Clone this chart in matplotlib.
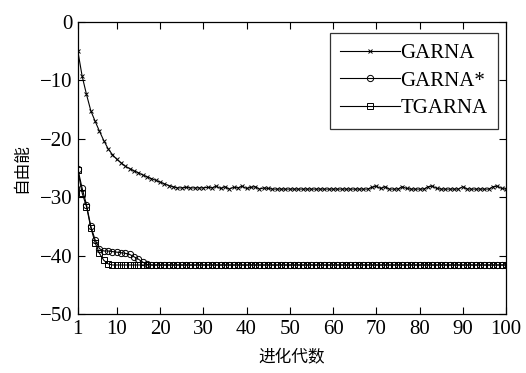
#!/usr/bin/env python3

import numpy as np
import matplotlib
matplotlib.use("Agg")
import matplotlib.pyplot as plt

# generations 1..100
gens = np.arange(1, 101)

# GARNA (x markers) - slow decay, settles around -28.5
garna = [-5.0, -9.3, -12.4, -15.2, -17.0, -18.7, -20.3, -21.7, -22.7, -23.5,
         -24.1, -24.7, -25.1, -25.5, -25.8, -26.2, -26.5, -26.8, -27.1, -27.4,
         -27.7, -28.0, -28.2, -28.4, -28.4, -28.3, -28.4, -28.4, -28.4, -28.4,
         -28.3, -28.4, -28.1, -28.5, -28.2, -28.6, -28.3, -28.4, -28.1, -28.5,
         -28.3, -28.2, -28.6, -28.4, -28.5, -28.6, -28.6, -28.6, -28.6, -28.6,
         -28.6, -28.6, -28.6, -28.6, -28.6, -28.6, -28.6, -28.6, -28.6, -28.6,
         -28.6, -28.6, -28.6, -28.6, -28.6, -28.6, -28.6, -28.6, -28.3, -28.1,
         -28.5, -28.2, -28.6, -28.6, -28.6, -28.2, -28.5, -28.6, -28.6, -28.6,
         -28.6, -28.2, -28.1, -28.5, -28.6, -28.6, -28.6, -28.6, -28.6, -28.2,
         -28.6, -28.6, -28.6, -28.6, -28.6, -28.6, -28.2, -28.1, -28.5, -28.6]

# GARNA* (circles) - fast drop, plateau near -39.5, then converges
garna_star = [-25.2, -28.5, -31.3, -35.0, -37.3, -38.8, -39.2, -39.2, -39.3, -39.4,
              -39.5, -39.6, -39.8, -40.2, -40.6, -41.1, -41.5] + [-41.6] * 83

# TGARNA (squares) - converges fastest
tgarna = [-25.4, -29.3, -31.6, -35.2, -37.8, -39.6, -40.8, -41.4, -41.6] + [-41.6] * 91

xticks = [1, 10, 20, 30, 40, 50, 60, 70, 80, 90, 100]
yticks = [0, -10, -20, -30, -40, -50]

serif = ['Liberation Serif', 'DejaVu Serif']
cjk = ['Noto Sans CJK SC', 'DejaVu Sans']

fig = plt.figure(figsize=(5.26, 3.73), dpi=100)
ax = fig.add_axes([0.148, 0.158, 0.814, 0.783])

ax.plot(gens, garna, '-x', color='black', lw=0.8, ms=3.0, mew=0.7, label='GARNA')
ax.plot(gens, garna_star, '-o', color='black', lw=0.8, ms=4.5, mew=0.7,
        mfc='none', label='GARNA*')
ax.plot(gens, tgarna, '-s', color='black', lw=0.8, ms=4.5, mew=0.7,
        mfc='none', label='TGARNA')

ax.set_xlim(1, 100)
ax.set_ylim(-50, 0)
ax.set_xticks(xticks)
ax.set_yticks(yticks)
ax.tick_params(direction='in', top=True, right=True, length=5, width=0.8,
               labelsize=15, pad=4)
for lbl in ax.get_xticklabels() + ax.get_yticklabels():
    lbl.set_family(serif)
for s in ax.spines.values():
    s.set_linewidth(0.9)

ax.set_xlabel('进化代数', family=cjk, fontsize=12, labelpad=8)
ax.set_ylabel('自由能', family=cjk, fontsize=12, labelpad=7)

leg = ax.legend(loc='upper right', bbox_to_anchor=(0.981, 0.962),
                numpoints=1, frameon=True, fancybox=False,
                edgecolor='black', handlelength=2.9, handletextpad=0.0,
                labelspacing=0.38, borderpad=0.5, borderaxespad=0.0,
                prop={'family': serif, 'size': 15})
leg.get_frame().set_linewidth(0.9)

fig.savefig('out.png', dpi=100)
